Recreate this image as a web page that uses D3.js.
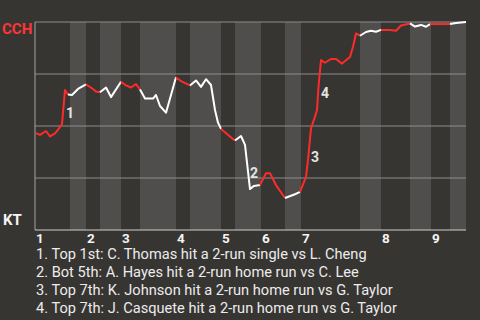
<!DOCTYPE html>
<html>
<head>
<meta charset="utf-8">
<script src="https://cdn.jsdelivr.net/npm/d3@7"></script>
<style>
  html, body { margin: 0; padding: 0; background: #373532; }
  svg { display: block; font-family: Roboto, "Open Sans", sans-serif; }
</style>
</head>
<body>
<svg id="chart" width="480" height="320"></svg>
<script>
// play number (event index) and CCH win probability (%) after each play
const playX = [0.2, 1, 2.2, 3, 4, 5, 5.4, 6, 6.6, 7.4, 8.6, 10.2, 11.6, 12.2, 13, 14.2, 15.2, 17.2,
  18.2, 19.2, 20.2, 21, 22, 23.6, 24.2, 25, 26.2, 28.2, 29.4, 31, 32.2, 33.2, 34.2, 35.2, 36, 36.6,
  37.2, 39, 40, 41.2, 42, 43, 43.8, 45, 46.2, 47, 48.2, 50, 52, 53, 54.2, 54.6, 55.2, 56, 56.4, 56.7,
  57.2, 58, 59.2, 60.2, 61.4, 63, 63.6, 64.2, 65, 66.2, 67.2, 68.2, 69.2, 71, 72.2, 73.2, 75, 76,
  77.2, 78.2, 79, 83, 84.2, 86.2];
const winProb = [46.6, 45.7, 47.6, 45.0, 46.4, 49.5, 51.0, 67.3, 65.1, 64.9, 67.8, 70.0, 67.8, 66.6,
  66.2, 68.5, 63.9, 71.3, 69.5, 68.5, 70.2, 67.5, 63.2, 63.2, 64.9, 59.6, 56.4, 73.4, 71.3, 69.5,
  71.9, 68.8, 72.5, 69.7, 57.7, 51.6, 48.6, 44.9, 43.0, 45.2, 40.9, 19.7, 21.2, 21.6, 27.3, 27.3,
  21.6, 15.4, 17.2, 18.3, 25.5, 33.7, 48.9, 54.5, 57.7, 68.9, 81.7, 80.4, 82.2, 82.2, 80.0, 83.2,
  88.1, 94.5, 93.4, 95.2, 95.8, 95.3, 96.2, 96.2, 95.8, 98.3, 99.3, 97.8, 98.6, 97.7, 99.0, 99.0,
  99.5, 100];

// half-inning boundaries in play units (top 1, bot 1, top 2, ...)
const halfBounds = [0, 7, 10.2, 13, 17.2, 21, 28.2, 31, 37.2, 40, 45.2, 50, 53.2, 65, 69.2, 75, 79.2, 83, 86.2];
const inningLabels = ["1", "2", "3", "4", "5", "6", "7", "8", "9"];
const inningStart = [0, 10.2, 17.2, 28.2, 37.2, 45.2, 53.2, 69.2, 79.2];

const probGrid = [100, 75, 50, 25];
const awayTeam = "CCH";
const homeTeam = "KT";

// key plays
const noteNums = ["1", "2", "3", "4"];
const notePlay = [6.2, 43, 55.2, 57.2];
const noteProb = [56.3, 27.4, 35.1, 66.1];
const noteText = [
  "1. Top 1st: C. Thomas hit a 2-run single vs L. Cheng",
  "2. Bot 5th: A. Hayes hit a 2-run home run vs C. Lee",
  "3. Top 7th: K. Johnson hit a 2-run home run vs G. Taylor",
  "4. Top 7th: J. Casquete hit a 2-run home run vs G. Taylor"
];

const AWAY_COLOR = "#ff2b2b";
const HOME_COLOR = "#ffffff";

const svg = d3.select("#chart");
const x = d3.scaleLinear().domain([0, 86.2]).range([35, 466]);
const y = d3.scaleLinear().domain([0, 100]).range([230, 22]);

svg.append("rect").attr("width", 480).attr("height", 320).attr("fill", "#373532");

// bottom-half bands
const halves = d3.range(halfBounds.length - 1);
svg.append("g").selectAll("rect")
  .data(halves.filter(i => i % 2 === 1))
  .enter().append("rect")
  .attr("x", i => x(halfBounds[i]))
  .attr("width", i => x(halfBounds[i + 1]) - x(halfBounds[i]))
  .attr("y", y(100))
  .attr("height", y(0) - y(100))
  .attr("fill", "#4f4e4c");

// grid lines
svg.append("g").selectAll("line")
  .data(probGrid)
  .enter().append("line")
  .attr("x1", x(0)).attr("x2", x(86.2))
  .attr("y1", d => y(d)).attr("y2", d => y(d))
  .attr("stroke", "#8e8d8b").attr("stroke-width", 1);

// axes lines
svg.append("line")
  .attr("x1", x(0)).attr("x2", x(0)).attr("y1", y(100)).attr("y2", y(0))
  .attr("stroke", "#a5a4a2").attr("stroke-width", 1);
svg.append("line")
  .attr("x1", x(0)).attr("x2", x(86.2)).attr("y1", y(0)).attr("y2", y(0))
  .attr("stroke", "#cfcfcf").attr("stroke-width", 1);

// team labels
svg.append("text").attr("x", 2).attr("y", y(100) + 11.5)
  .attr("font-size", 15).attr("font-weight", "bold").attr("fill", "#ff3535").text(awayTeam);
svg.append("text").attr("x", 3).attr("y", y(0) - 5)
  .attr("font-size", 15).attr("font-weight", "bold").attr("fill", "#f4f4f4").text(homeTeam);

// inning labels
svg.append("g").selectAll("text")
  .data(inningLabels)
  .enter().append("text")
  .attr("x", (d, i) => x(inningStart[i]) + 1)
  .attr("y", y(0) + 12.5)
  .attr("font-size", 13.5).attr("font-weight", "bold").attr("fill", "#f4f4f4")
  .text(d => d);

// win probability line, coloured by half inning of each play
const pts = playX.map((p, i) => [p, winProb[i]]);
const halfOf = p => d3.bisectLeft(halfBounds, p) - 1;
const colorOf = p => halfOf(p) % 2 === 0 ? AWAY_COLOR : HOME_COLOR;

const runs = [];
for (let i = 1; i < pts.length; i++) {
  const c = colorOf(pts[i][0]);
  const last = runs[runs.length - 1];
  if (last && last.color === c) {
    last.points.push(pts[i]);
  } else {
    runs.push({ color: c, points: [pts[i - 1], pts[i]] });
  }
}

const line = d3.line().x(d => x(d[0])).y(d => y(d[1]));
svg.append("g").selectAll("path")
  .data(runs)
  .enter().append("path")
  .attr("d", d => line(d.points))
  .attr("fill", "none")
  .attr("stroke", d => d.color)
  .attr("stroke-width", 2)
  .attr("stroke-linejoin", "round");

// key play markers
svg.append("g").selectAll("text")
  .data(noteNums)
  .enter().append("text")
  .attr("x", (d, i) => x(notePlay[i]))
  .attr("y", (d, i) => y(noteProb[i]))
  .attr("dy", "0.36em")
  .attr("font-size", 14).attr("font-weight", "bold").attr("fill", "#e4e4e4")
  .text(d => d);

// key play descriptions
svg.append("g").selectAll("text")
  .data(noteText)
  .enter().append("text")
  .attr("x", 36)
  .attr("y", (d, i) => 258.5 + i * 18)
  .attr("font-size", 14.6).attr("fill", "#ececec")
  .text(d => d);
</script>
</body>
</html>
